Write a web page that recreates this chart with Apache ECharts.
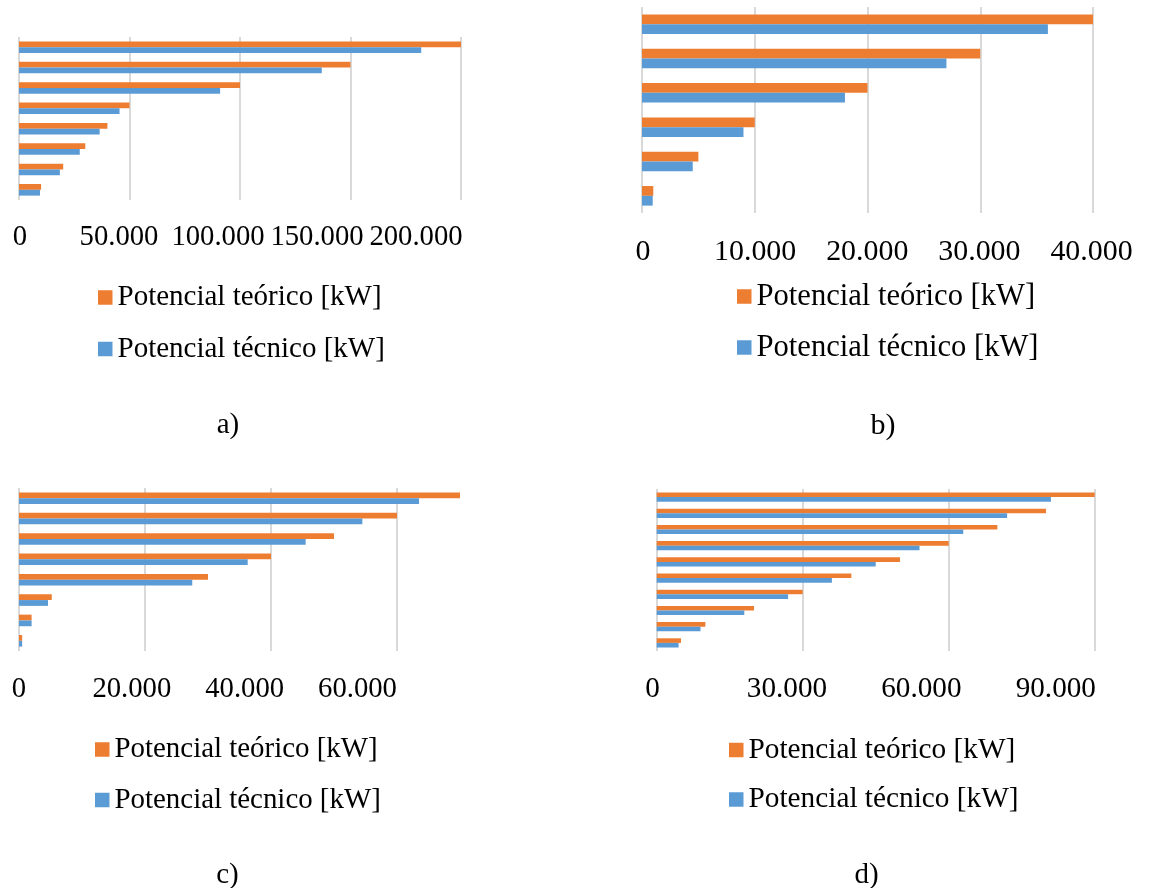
<!DOCTYPE html>
<html>
<head>
<meta charset="utf-8">
<script src="https://cdn.jsdelivr.net/npm/echarts@6/dist/echarts.min.js"></script>
<style>
  html, body { margin: 0; padding: 0; background: #ffffff; }
  #chart { width: 1170px; height: 888px; }
</style>
</head>
<body>
<div id="chart"></div>
<script>
// ---------- data ----------
const seriesNames = ['Potencial teórico [kW]', 'Potencial técnico [kW]'];
const captions = ['a)', 'b)', 'c)', 'd)'];

// a) (categories listed bottom to top)
const catsA = ['1', '2', '3', '4', '5', '6', '7', '8'];
const teoricoA = [10000, 20000, 30000, 40000, 50000, 100000, 150000, 200000];
const tecnicoA = [9500, 18500, 27500, 36500, 45500, 91000, 137000, 182000];
const ticksA = [0, 50000, 100000, 150000, 200000];
const axisMaxA = 200000;

// b)
const catsB = ['1', '2', '3', '4', '5', '6'];
const teoricoB = [1000, 5000, 10000, 20000, 30000, 40000];
const tecnicoB = [950, 4500, 9000, 18000, 27000, 36000];
const ticksB = [0, 10000, 20000, 30000, 40000];
const axisMaxB = 40000;

// c)
const catsC = ['1', '2', '3', '4', '5', '6', '7', '8'];
const teoricoC = [500, 2000, 5200, 30000, 40000, 50000, 60000, 70000];
const tecnicoC = [500, 2000, 4600, 27500, 36300, 45500, 54500, 63500];
const ticksC = [0, 20000, 40000, 60000];
const axisMaxC = 70000;

// d)
const catsD = ['1', '2', '3', '4', '5', '6', '7', '8', '9', '10'];
const teoricoD = [5000, 10000, 20000, 30000, 40000, 50000, 60000, 70000, 80000, 90000];
const tecnicoD = [4500, 9000, 18000, 27000, 36000, 45000, 54000, 63000, 72000, 81000];
const ticksD = [0, 30000, 60000, 90000];
const axisMaxD = 90000;

// ---------- styles / layout ----------
const FONT = '"Liberation Serif", "Times New Roman", serif';
const COLORS = ['#ED7D31', '#5B9BD5'];
const GRID_COLOR = '#D9D9D9';

const panels = [
  { cats: catsA, teo: teoricoA, tec: tecnicoA, ticks: ticksA, axisMax: axisMaxA,
    plot: { left: 19, top: 37, width: 442, height: 163 },
    label: { left: 20, width: 396, cy: 237.5, fs: 28.7 },
    legend: { left: 98, top: 283, gap: 22.5, fs: 29 },
    cap: { x: 228, y: 425.5, fs: 29 } },
  { cats: catsB, teo: teoricoB, tec: tecnicoB, ticks: ticksB, axisMax: axisMaxB,
    plot: { left: 642, top: 7, width: 451, height: 206 },
    label: { left: 643, width: 448.5, cy: 252, fs: 29.9 },
    legend: { left: 737, top: 281, gap: 20, fs: 30.6 },
    cap: { x: 883, y: 426.5, fs: 30 } },
  { cats: catsC, teo: teoricoC, tec: tecnicoC, ticks: ticksC, axisMax: axisMaxC,
    plot: { left: 19, top: 488, width: 441, height: 163 },
    label: { left: 19, width: 338.5, cy: 689, fs: 28.7 },
    legend: { left: 95, top: 735, gap: 21.5, fs: 28.9 },
    cap: { x: 227.5, y: 875, fs: 29 } },
  { cats: catsD, teo: teoricoD, tec: tecnicoD, ticks: ticksD, axisMax: axisMaxD,
    plot: { left: 656.7, top: 489, width: 438, height: 162 },
    label: { left: 652.5, width: 403.3, cy: 689, fs: 29.2 },
    legend: { left: 729, top: 735.5, gap: 20.5, fs: 29.3 },
    cap: { x: 866.7, y: 875, fs: 29 } }
];

const fmt = v => String(v).replace(/\B(?=(\d{3})+(?!\d))/g, '.');

const grid = [], xAxis = [], yAxis = [], series = [], legend = [], graphic = [];

panels.forEach((p, i) => {
  const gMain = grid.length;
  grid.push({ left: p.plot.left, top: p.plot.top, width: p.plot.width, height: p.plot.height, containLabel: false });
  xAxis.push({
    gridIndex: gMain, type: 'value', min: 0, max: p.axisMax, interval: p.ticks[1] - p.ticks[0],
    axisLine: { show: false }, axisTick: { show: false }, axisLabel: { show: false },
    splitLine: { show: true, showMaxLine: p.axisMax === p.ticks[p.ticks.length - 1],
                 lineStyle: { color: GRID_COLOR, width: 2 } }
  });
  yAxis.push({
    gridIndex: gMain, type: 'category', data: p.cats,
    axisLine: { show: false }, axisTick: { show: false }, axisLabel: { show: false },
    splitLine: { show: false }
  });

  // tick-label axis
  const gLab = grid.length;
  grid.push({ left: p.label.left, top: p.label.cy - 1, width: p.label.width, height: 1, containLabel: false });
  xAxis.push({
    gridIndex: gLab, type: 'value', min: p.ticks[0], max: p.ticks[p.ticks.length - 1],
    interval: p.ticks[1] - p.ticks[0],
    axisLine: { show: false }, axisTick: { show: false }, splitLine: { show: false },
    axisLabel: { show: true, margin: 0, verticalAlign: 'middle', color: '#000',
                 fontFamily: FONT, fontSize: p.label.fs, formatter: fmt,
                 showMinLabel: true, showMaxLabel: true }
  });
  yAxis.push({ gridIndex: gLab, type: 'value', show: false });

  const xi = gMain, yi = gMain;
  series.push({
    name: seriesNames[0], type: 'bar', xAxisIndex: xi, yAxisIndex: yi, data: p.teo,
    itemStyle: { color: COLORS[0] }, barGap: '0%', barCategoryGap: '43%'
  });
  series.push({
    name: seriesNames[1], type: 'bar', xAxisIndex: xi, yAxisIndex: yi, data: p.tec,
    itemStyle: { color: COLORS[1] }, barGap: '0%', barCategoryGap: '43%'
  });

  legend.push({
    data: seriesNames, orient: 'vertical', left: p.legend.left, top: p.legend.top,
    padding: 0, itemGap: p.legend.gap, itemWidth: 14.5, itemHeight: 14.5, icon: 'rect',
    selectedMode: false,
    textStyle: { fontFamily: FONT, fontSize: p.legend.fs, color: '#000' }
  });

  graphic.push({
    type: 'text', x: p.cap.x, y: p.cap.y,
    style: { text: captions[i], textAlign: 'center', textVerticalAlign: 'middle',
             fontFamily: FONT, fontSize: p.cap.fs, fill: '#000' }
  });
});

const chart = echarts.init(document.getElementById('chart'), null, { renderer: 'canvas' });
chart.setOption({
  animation: false,
  backgroundColor: '#ffffff',
  grid, xAxis, yAxis, series, legend, graphic
});
</script>
</body>
</html>
